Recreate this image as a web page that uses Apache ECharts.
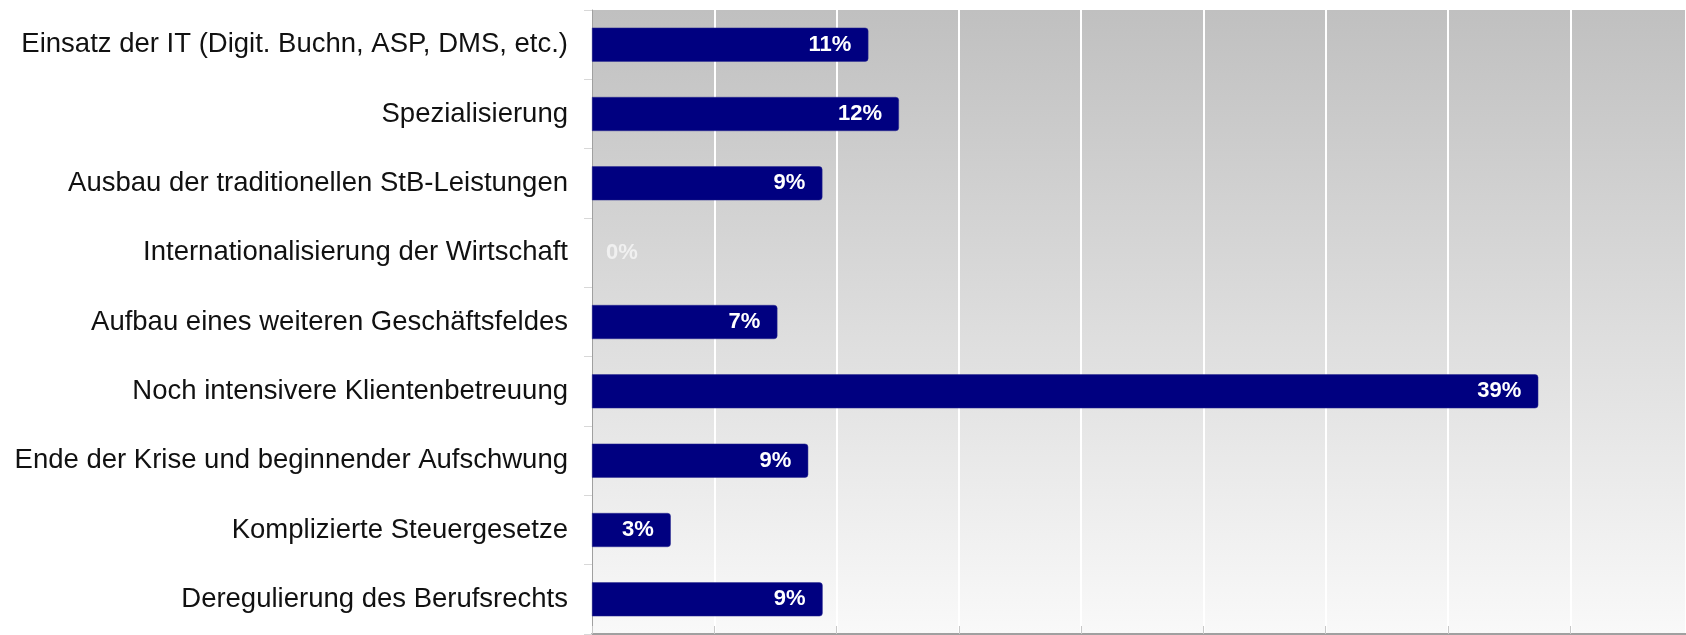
<!DOCTYPE html>
<html>
<head>
<meta charset="utf-8">
<script src="https://cdn.jsdelivr.net/npm/echarts@6/dist/echarts.min.js"></script>
<style>
html,body{margin:0;padding:0;background:#fff;}
#c{width:1686px;height:635px;}
</style>
</head>
<body>
<div id="c"></div>
<script>
const categories = [
  "Einsatz der IT (Digit. Buchn, ASP, DMS, etc.)",
  "Spezialisierung",
  "Ausbau der traditionellen StB-Leistungen",
  "Internationalisierung der Wirtschaft",
  "Aufbau eines weiteren Geschäftsfeldes",
  "Noch intensivere Klientenbetreuung",
  "Ende der Krise und beginnender Aufschwung",
  "Komplizierte Steuergesetze",
  "Deregulierung des Berufsrechts"
];
const values = [11.3, 12.55, 9.42, 0, 7.58, 38.69, 8.84, 3.22, 9.43];
const valueLabels = ["11%", "12%", "9%", "0%", "7%", "39%", "9%", "3%", "9%"];
const axisMax = 44.73;
const axisInterval = 5;

const chart = echarts.init(document.getElementById('c'));
const data = values.map((v, i) => {
  const item = { value: v };
  if (v === 0) {
    item.label = { position: 'insideLeft', distance: 14, color: '#f0f0f0' };
    item.itemStyle = { borderWidth: 0, color: 'rgba(0,0,0,0)' };
  }
  return item;
});
chart.setOption({
  animation: false,
  grid: {
    left: 592, top: 10, right: 0, bottom: 1,
    show: true,
    borderWidth: 0,
    backgroundColor: new echarts.graphic.LinearGradient(0, 0, 0, 1, [
      { offset: 0, color: '#c0c0c0' },
      { offset: 1, color: '#f9f9f9' }
    ])
  },
  xAxis: {
    type: 'value',
    min: 0, max: axisMax, interval: axisInterval,
    axisLabel: { show: false },
    axisLine: { show: true, lineStyle: { color: '#a0a0a0', width: 2 } },
    axisTick: { show: true, inside: true, length: 8, lineStyle: { color: '#c8c8c8', width: 1 } },
    splitLine: { show: true, lineStyle: { color: '#ffffff', width: 2 } }
  },
  yAxis: {
    type: 'category',
    data: categories,
    inverse: true,
    axisLine: { show: true, lineStyle: { color: '#a0a0a0', width: 1 } },
    axisTick: { show: true, length: 8, lineStyle: { color: '#d8d8d8' } },
    axisLabel: {
      margin: 24,
      color: '#111',
      fontSize: 27.5,
      fontFamily: 'Liberation Sans, Arial, sans-serif'
    },
    splitLine: { show: false }
  },
  series: [{
    type: 'bar',
    data: data,
    barWidth: 34,
    itemStyle: { color: '#000080', borderRadius: [0, 3, 3, 0], borderColor: '#2a2a8f', borderWidth: 0.5 },
    label: {
      show: true,
      position: 'insideRight',
      distance: 17,
      color: '#ffffff',
      fontWeight: 'bold',
      fontSize: 22,
      fontFamily: 'Liberation Sans, Arial, sans-serif',
      formatter: p => valueLabels[p.dataIndex]
    }
  }]
});
</script>
</body>
</html>
